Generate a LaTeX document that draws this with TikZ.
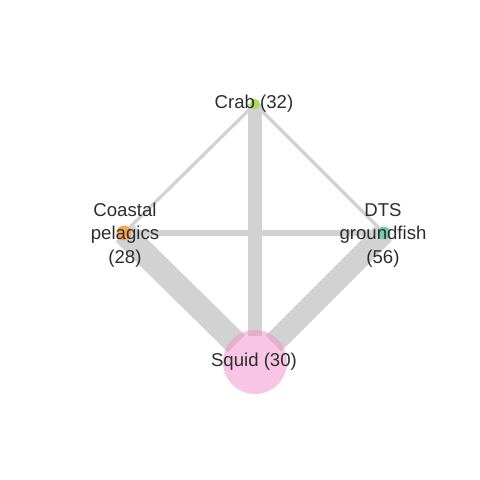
\documentclass[tikz,border=0pt]{standalone}
\usepackage{fontspec}
\setmainfont{Liberation Sans}
\definecolor{edgegray}{RGB}{210,210,210}
\definecolor{txtgray}{RGB}{45,45,45}
\definecolor{sqpink}{RGB}{242,142,202}
\definecolor{cporange}{RGB}{248,166,86}
\definecolor{dtsteal}{RGB}{118,204,178}
\definecolor{crgreen}{RGB}{170,220,90}
\pgfdeclarelayer{bg}
\pgfsetlayers{bg,main}
\begin{document}
\begin{tikzpicture}[x=1pt,y=-1pt,
  vert/.style={circle,draw=none,inner sep=0pt},
  edge/.style={draw=edgegray,line cap=butt},
  lbl/.style={text=txtgray,inner sep=0pt,align=center,font=\fontsize{18.6}{23.5}\selectfont}]
\useasboundingbox (0,0) rectangle (480,480);
\node[vert,minimum size=64pt,fill=sqpink,fill opacity=0.5] (sq) at (255,362) {};
\node[vert,minimum size=10pt,fill=crgreen] (cr) at (255,104) {};
\node[vert,minimum size=15pt,fill=cporange] (cp) at (124,233) {};
\node[vert,minimum size=13pt,fill=dtsteal] (dts) at (384,233) {};
\begin{pgfonlayer}{bg}
\draw[edge,line width=3.3pt] (cr.center) -- (cp.center);
\draw[edge,line width=3.3pt] (cr.center) -- (dts.center);
\draw[edge,line width=6.5pt] (cp.center) -- (dts.center);
\draw[edge,line width=14pt,shorten >=-6pt] (cr.center) -- (sq);
\draw[edge,line width=24pt,shorten >=-6pt] (cp.center) -- (sq);
\draw[edge,line width=22pt,shorten >=-6pt] (dts.center) -- (sq);
\end{pgfonlayer}
\node[lbl] (lcr) at (254,104) {Crab (32)};
\node[lbl] (lcp) at (125,235) {Coastal\\pelagics\\(28)};
\node[lbl] (ldts) at (383,235) {DTS\\groundfish\\(56)};
\node[lbl] (lsq) at (254,362) {Squid (30)};
\end{tikzpicture}
\end{document}
